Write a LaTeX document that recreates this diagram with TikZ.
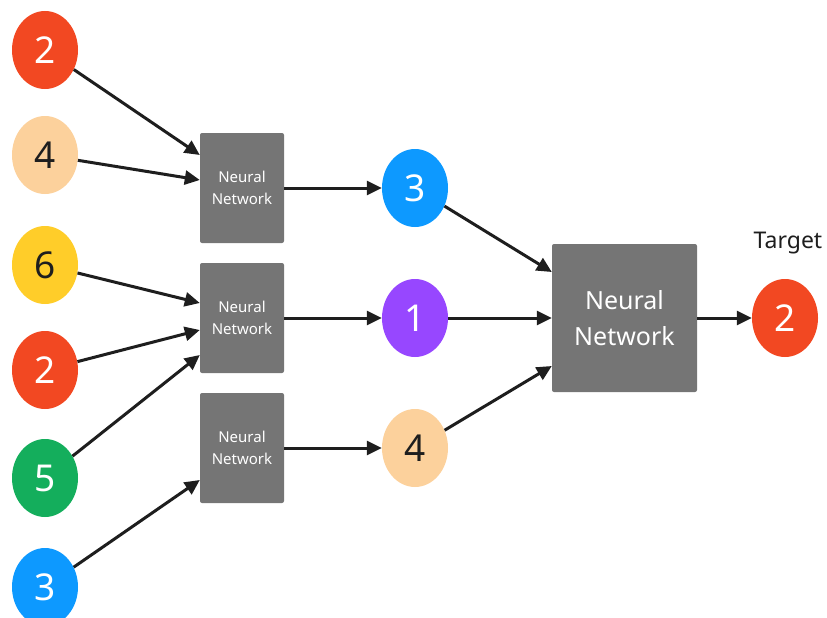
\documentclass[tikz,border=0pt]{standalone}
\usepackage{fontspec}
\setmainfont{Noto Sans}
\usetikzlibrary{shapes.geometric, arrows.meta}
\definecolor{ballred}{HTML}{F24822}
\definecolor{ballpeach}{HTML}{FCD19C}
\definecolor{ballyellow}{HTML}{FFCD29}
\definecolor{ballgreen}{HTML}{14AE5C}
\definecolor{ballblue}{HTML}{0D99FF}
\definecolor{ballpurple}{HTML}{9747FF}
\definecolor{boxgray}{HTML}{757575}
\definecolor{inkdark}{HTML}{1E1E1E}
\tikzset{
    num ball/.style = {ellipse, minimum width=66pt, minimum height=78pt, inner sep=0pt, text=white, font=\fontsize{37}{40}\selectfont},
    num ball dark/.style = {num ball, text=inkdark},
    net box/.style = {rectangle, rounded corners=2pt, fill=boxgray, minimum width=84pt, minimum height=110pt, inner sep=0pt, text=white, align=center, font=\fontsize{15}{22}\selectfont},
    big net box/.style = {net box, minimum width=145pt, minimum height=148pt, font=\fontsize{25}{36}\selectfont},
    link/.style = {draw=inkdark, line width=3pt, -{Triangle[length=15pt, width=14pt]}}
}

\begin{document}
\begin{tikzpicture}[x=1pt, y=-1pt]
        \useasboundingbox (0,0) rectangle (827,618);

        % inputs
        \node[num ball, fill=ballred] (inA) at (45,50) {2};
        \node[num ball dark, fill=ballpeach] (inB) at (45,155) {4};
        \node[num ball dark, fill=ballyellow] (inC) at (45,265) {6};
        \node[num ball, fill=ballred] (inD) at (45,370) {2};
        \node[num ball, fill=ballgreen] (inE) at (45,478) {5};
        \node[num ball, fill=ballblue] (inF) at (45,587) {3};

        % first layer of networks
        \node[net box] (netA) at (242,188) {Neural\\Network};
        \node[net box] (netB) at (242,318) {Neural\\Network};
        \node[net box] (netC) at (242,448) {Neural\\Network};

        % outputs of the first layer
        \node[num ball, fill=ballblue] (midA) at (415,188) {3};
        \node[num ball, fill=ballpurple] (midB) at (415,318) {1};
        \node[num ball dark, fill=ballpeach] (midC) at (415,448) {4};

        \node[big net box] (netBig) at (624.5,318) {Neural\\Network};
        \node[num ball, fill=ballred] (target) at (785,318) {2};
        \node[text=inkdark, font=\fontsize{23}{26}\selectfont] (targetLabel) at (788,243) {Target};

        \draw[link] (inA) -- ([yshift=33pt]netA.west);
        \draw[link] (inB) -- ([yshift=8pt]netA.west);
        \draw[link] (inC) -- ([yshift=15pt]netB.west);
        \draw[link] (inD) -- ([yshift=-12pt]netB.west);
        \draw[link] (inE) -- ([yshift=-37pt]netB.west);
        \draw[link] (inF) -- ([yshift=-32pt]netC.west);

        \draw[link] (netA) -- (midA);
        \draw[link] (netB) -- (midB);
        \draw[link] (netC) -- (midC);

        \draw[link] (midA) -- ([yshift=46pt]netBig.west);
        \draw[link] (midB) -- (netBig.west);
        \draw[link] (midC) -- ([yshift=-48pt]netBig.west);

        \draw[link] (netBig) -- (target);
\end{tikzpicture}
\end{document}
